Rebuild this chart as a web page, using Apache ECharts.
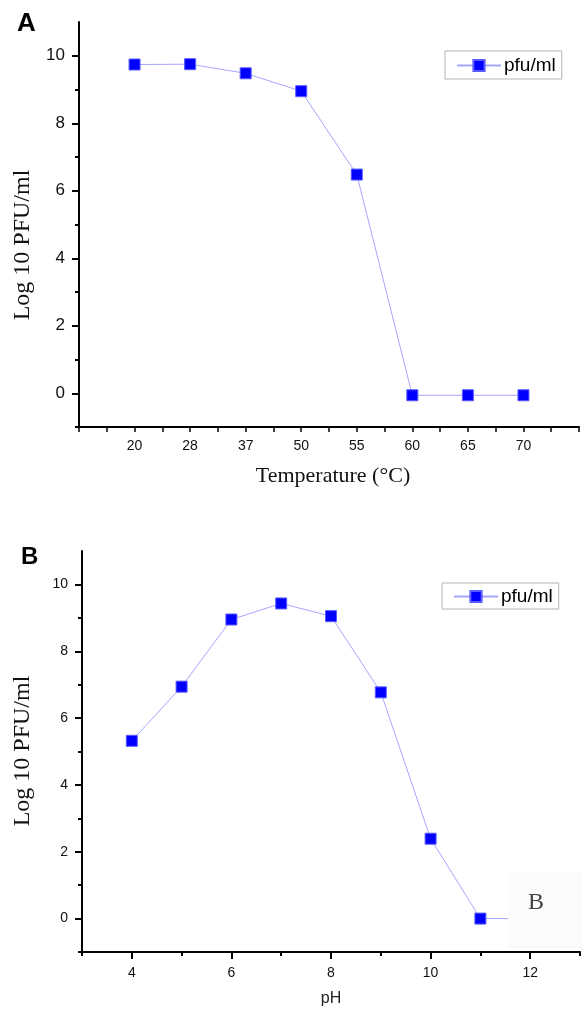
<!DOCTYPE html>
<html>
<head>
<meta charset="utf-8">
<script src="https://cdn.jsdelivr.net/npm/echarts@6/dist/echarts.min.js"></script>
<style>
html,body{margin:0;padding:0;background:#fff;}
#chart{width:582px;height:1010px;}
</style>
</head>
<body>
<div id="chart"></div>
<script>
// ---- Data ----
const tempCategories = ['20', '28', '37', '50', '55', '60', '65', '70'];
const tempValues = [9.74, 9.75, 9.48, 8.95, 6.48, -0.06, -0.06, -0.06];

const phLevels = [4, 5, 6, 7, 8, 9, 10, 11, 12];
const phValues = [5.32, 6.94, 8.95, 9.43, 9.05, 6.77, 2.39, 0.0, 0.0];

const yTickLabels = [0, 2, 4, 6, 8, 10];
const yMinorTicks = [-1, 1, 3, 5, 7, 9];
const phTickLabels = [4, 6, 8, 10, 12];
const phMinorTicks = [3, 5, 7, 9, 11, 13];

const seriesName = 'pfu/ml';

// ---- Styles ----
const AX = '#000';
const SANS = 'Liberation Sans, Arial, sans-serif';
const SERIF = 'Liberation Serif, Times New Roman, serif';

const chart = echarts.init(document.getElementById('chart'), null, {renderer: 'canvas'});

function axisLine() {
  return {show: true, onZero: false, lineStyle: {color: AX, width: 2}};
}

const option = {
  backgroundColor: '#fff',
  animation: false,
  grid: [
    {left: 79, right: 3, top: 22, bottom: 583},
    {left: 82, right: 2, top: 551, bottom: 58}
  ],
  xAxis: [
    {
      gridIndex: 0, type: 'value', min: 0, max: 9, interval: 1, position: 'bottom',
      axisLine: axisLine(),
      axisTick: {show: true, length: 5, lineStyle: {color: AX, width: 1.5}},
      minorTick: {show: true, splitNumber: 2, length: 5, lineStyle: {color: AX, width: 1.5}},
      axisLabel: {
        color: '#111', fontFamily: SANS, fontSize: 14, margin: 12,
        formatter: function (v) {
          const i = Math.round(v);
          return (i >= 1 && i <= tempCategories.length) ? tempCategories[i - 1] : '';
        }
      },
      splitLine: {show: false}, minorSplitLine: {show: false}
    },
    {
      gridIndex: 1, type: 'value', min: 3, max: 13, interval: 1, position: 'bottom',
      axisLine: axisLine(),
      axisTick: {show: true, length: 7, customValues: phTickLabels, lineStyle: {color: AX, width: 2}},
      axisLabel: {
        color: '#111', fontFamily: SANS, fontSize: 14, margin: 14,
        customValues: phTickLabels
      },
      splitLine: {show: false}
    },
    {
      gridIndex: 1, type: 'value', min: 3, max: 13, interval: 1, position: 'bottom',
      axisLine: {show: false, onZero: false},
      axisTick: {show: true, length: 4, customValues: phMinorTicks, lineStyle: {color: AX, width: 2}},
      axisLabel: {show: false},
      splitLine: {show: false}
    }
  ],
  yAxis: [
    {
      gridIndex: 0, type: 'value', min: -1, max: 11, interval: 1, position: 'left',
      axisLine: axisLine(),
      axisTick: {show: true, length: 7, customValues: yTickLabels, lineStyle: {color: AX, width: 2}},
      axisLabel: {color: '#111', fontFamily: SANS, fontSize: 17, margin: 14, customValues: yTickLabels},
      splitLine: {show: false}
    },
    {
      gridIndex: 0, type: 'value', min: -1, max: 11, interval: 1, position: 'left',
      axisLine: {show: false, onZero: false},
      axisTick: {show: true, length: 4, customValues: yMinorTicks, lineStyle: {color: AX, width: 2}},
      axisLabel: {show: false},
      splitLine: {show: false}
    },
    {
      gridIndex: 1, type: 'value', min: -1, max: 11, interval: 1, position: 'left',
      axisLine: axisLine(),
      axisTick: {show: true, length: 7, customValues: yTickLabels, lineStyle: {color: AX, width: 2}},
      axisLabel: {color: '#111', fontFamily: SANS, fontSize: 14, margin: 14, customValues: yTickLabels},
      splitLine: {show: false}
    },
    {
      gridIndex: 1, type: 'value', min: -1, max: 11, interval: 1, position: 'left',
      axisLine: {show: false, onZero: false},
      axisTick: {show: true, length: 4, customValues: yMinorTicks, lineStyle: {color: AX, width: 2}},
      axisLabel: {show: false},
      splitLine: {show: false}
    }
  ],
  legend: [
    {
      data: [seriesName], left: 445, top: 51,
      padding: [5, 6, 4, 11], itemWidth: 44, itemHeight: 14, itemGap: 4,
      backgroundColor: '#fff', borderColor: '#b4b4b4', borderWidth: 1, borderRadius: 0,
      textStyle: {color: '#000', fontFamily: SANS, fontSize: 19, padding: [0, 0, 0, -2]},
      selectedMode: false
    },
    {
      data: [seriesName], left: 442, top: 583,
      padding: [4, 6, 3, 11], itemWidth: 44, itemHeight: 14, itemGap: 4,
      backgroundColor: '#fff', borderColor: '#b4b4b4', borderWidth: 1, borderRadius: 0,
      textStyle: {color: '#000', fontFamily: SANS, fontSize: 19, padding: [0, 0, 0, -2]},
      selectedMode: false
    }
  ],
  series: [
    {
      name: seriesName, type: 'line', xAxisIndex: 0, yAxisIndex: 0,
      data: tempValues.map((v, i) => [i + 1, v]),
      symbol: 'rect', symbolSize: 11,
      lineStyle: {color: '#a6a6ff', width: 1},
      itemStyle: {color: '#0000ff', borderColor: '#5a5aff', borderWidth: 1},
      z: 3
    },
    {
      name: seriesName, type: 'line', xAxisIndex: 1, yAxisIndex: 2,
      data: phLevels.map((x, i) => [x, phValues[i]]),
      symbol: 'rect', symbolSize: 11,
      lineStyle: {color: '#a6a6ff', width: 1},
      itemStyle: {color: '#0000ff', borderColor: '#5a5aff', borderWidth: 1},
      z: 3
    }
  ],
  graphic: [
    {type: 'text', left: 17, top: 11, z: 10,
      style: {text: 'A', fontFamily: SANS, fontWeight: 'bold', fontSize: 26, fill: '#000'}},
    {type: 'text', left: 21, top: 545, z: 10,
      style: {text: 'B', fontFamily: SANS, fontWeight: 'bold', fontSize: 24, fill: '#000'}},
    {type: 'text', x: 23, y: 245, rotation: Math.PI / 2, z: 10,
      style: {text: 'Log 10 PFU/ml', fontFamily: SERIF, fontSize: 24, fill: '#111',
        align: 'center', verticalAlign: 'middle'}},
    {type: 'text', x: 23, y: 751, rotation: Math.PI / 2, z: 10,
      style: {text: 'Log 10 PFU/ml', fontFamily: SERIF, fontSize: 24, fill: '#111',
        align: 'center', verticalAlign: 'middle'}},
    {type: 'text', x: 333, y: 476, z: 10,
      style: {text: 'Temperature (°C)', fontFamily: SERIF, fontSize: 22, fill: '#111',
        align: 'center', verticalAlign: 'middle'}},
    {type: 'text', x: 331, y: 999, z: 10,
      style: {text: 'pH', fontFamily: SANS, fontSize: 16, fill: '#222',
        align: 'center', verticalAlign: 'middle'}},
    {type: 'rect', z: 20, shape: {x: 508, y: 872, width: 74, height: 77},
      style: {fill: '#fbfbfb', stroke: null}},
    {type: 'text', x: 536, y: 903, z: 21,
      style: {text: 'B', fontFamily: SERIF, fontSize: 24, fill: '#444',
        align: 'center', verticalAlign: 'middle'}}
  ]
};

chart.setOption(option);
</script>
</body>
</html>
